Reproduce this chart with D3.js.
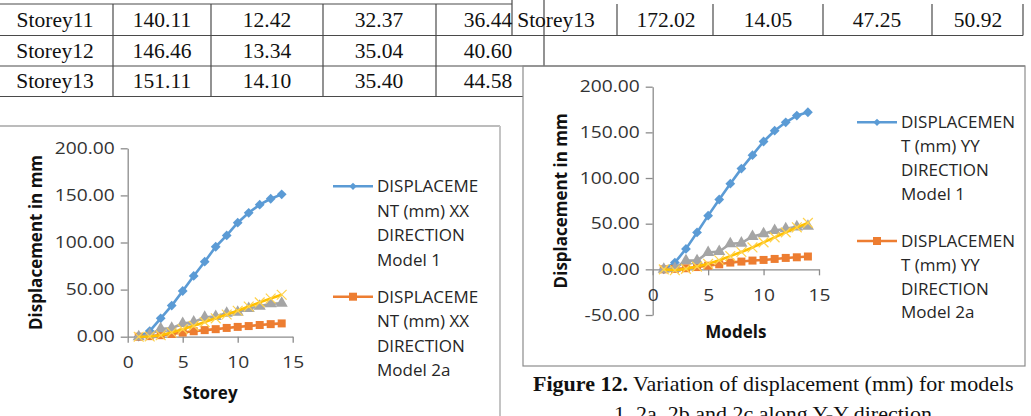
<!DOCTYPE html>
<html>
<head>
<meta charset="utf-8">
<script src="https://cdn.jsdelivr.net/npm/d3@7"></script>
<style>
  body { margin: 0; background: #fff; }
  svg { display: block; }
</style>
</head>
<body>
<div id="page"></div>
<script>
// storey / model numbers on the x axis
const storeys = [1, 2, 3, 4, 5, 6, 7, 8, 9, 10, 11, 12, 13, 14];
const xTicks = [0, 5, 10, 15];

// XX direction (left chart)
const xxModel1 = [0, 6, 19.5, 33, 48.5, 64.5, 79.6, 95.5, 107.5, 121, 131.5, 140.11, 146.46, 151.11];
const xxModel2a = [0, 0.6, 1.6, 2.9, 4.4, 5.8, 7.0, 8.0, 9.3, 10.4, 11.3, 12.42, 13.34, 14.10];
const xxModel2b = [0, 2, 8.5, 9, 14, 15.5, 20.5, 21.5, 25, 26, 30, 32.37, 35.04, 35.40];
const xxModel2c = [0, 0.2, 1.5, 4.5, 8, 11.5, 15.5, 19.5, 23.5, 27.5, 32, 36.44, 40.60, 44.58];
const xxTicks = [0, 50, 100, 150, 200];

// YY direction (right chart)
const yyModel1 = [0, 7.4, 22.4, 40.4, 58.8, 76.5, 93.8, 110.3, 125, 140, 151.8, 161, 168.4, 172.02];
const yyModel2a = [0, 0.5, 1.2, 2.5, 4, 5.5, 7.4, 8.5, 9.6, 10.3, 11.4, 12.5, 13.2, 14.05];
const yyModel2b = [0, 1, 9.5, 9.5, 18.4, 19.5, 28, 28.7, 36, 39, 42.5, 44.5, 46.5, 47.25];
const yyModel2c = [0, -1, 0.5, 3, 6, 10, 14.5, 19, 24, 29.5, 35, 40.5, 46, 50.92];
const yyTicks = [-50, 0, 50, 100, 150, 200];

// legend text as wrapped in the picture
const xxLegend = [
  ["DISPLACEME", "NT (mm) XX", "DIRECTION", "Model 1"],
  ["DISPLACEME", "NT (mm) XX", "DIRECTION", "Model 2a"]
];
const yyLegend = [
  ["DISPLACEMEN", "T (mm) YY", "DIRECTION", "Model 1"],
  ["DISPLACEMEN", "T (mm) YY", "DIRECTION", "Model 2a"]
];

// table scraps above the charts
const leftRows = [
  ["Storey11", "140.11", "12.42", "32.37", "36.44"],
  ["Storey12", "146.46", "13.34", "35.04", "40.60"],
  ["Storey13", "151.11", "14.10", "35.40", "44.58"]
];
const rightRow = ["Storey13", "172.02", "14.05", "47.25", "50.92"];

const colors = ["#5B9BD5", "#ED7D31", "#A5A5A5", "#FFC000"];
const markers = ["diamond", "square", "triangle", "x"];

const svg = d3.select("#page").append("svg")
  .attr("width", 1031)
  .attr("height", 416);

const serif = "'Liberation Serif', 'Times New Roman', serif";
const sans = "'Open Sans', 'Noto Sans', sans-serif";

function hline(x1, x2, y, color, w) {
  svg.append("line").attr("x1", x1).attr("x2", x2).attr("y1", y).attr("y2", y)
    .attr("stroke", color).attr("stroke-width", w);
}
function vline(x, y1, y2, color, w) {
  svg.append("line").attr("x1", x).attr("x2", x).attr("y1", y1).attr("y2", y2)
    .attr("stroke", color).attr("stroke-width", w);
}

function drawTables() {
    const lc = "#4a4a4a";
    // left table
    hline(0, 512, 4, lc, 1.2);
    hline(0, 1023, 35.5, lc, 1.2);
    hline(0, 1025, 66, lc, 1.2);
    hline(0, 523, 96.5, lc, 1.2);
    [113, 211, 323, 436].forEach(x => vline(x, 4, 96.5, lc, 1.2));
    vline(512, 0, 35.5, lc, 1.2);
    vline(544, 0, 66, lc, 1.2);
    // right table row
    [617, 713, 823, 932, 1023].forEach(x => vline(x, 4, 35.5, lc, 1.2));

    const leftCenters = [55, 162, 267, 379, 488];
    const baselines = [27, 58, 88];
    leftRows.forEach((row, i) => {
        row.forEach((cell, j) => {
            svg.append("text")
                .attr("x", leftCenters[j]).attr("y", baselines[i])
                .attr("text-anchor", "middle")
                .attr("font-family", serif).attr("font-size", 21.5)
                .attr("fill", "#111")
                .text(cell);
        });
    });

    const rightCenters = [556, 666, 768, 877, 978];
    rightRow.forEach((cell, j) => {
        svg.append("text")
            .attr("x", rightCenters[j]).attr("y", 27)
            .attr("text-anchor", "middle")
            .attr("font-family", serif).attr("font-size", 21.5)
            .attr("fill", "#111")
            .text(cell);
    });
}

function markerPath(kind, size) {
    if (kind === "diamond") return d3.symbol(d3.symbolSquare, size * 0.75)();
    if (kind === "square") return d3.symbol(d3.symbolSquare, size)();
    if (kind === "triangle") return d3.symbol(d3.symbolTriangle, size)();
    return d3.symbol(d3.symbolX, size)();
}

function addMarker(g, kind, color, cx, cy, size) {
    const p = g.append("path")
        .attr("d", markerPath(kind, size))
        .attr("transform", "translate(" + cx + "," + cy + ")" + (kind === "diamond" ? " rotate(45)" : ""));
    if (kind === "x") {
        p.attr("fill", "none").attr("stroke", "#FFD24D").attr("stroke-width", 1.2);
    } else {
        p.attr("fill", color);
    }
}

// stretch tick labels sideways, the picture's digits are wide
function stretchText(sel) {
    sel.each(function() {
        const x = +this.getAttribute("x") || 0;
        this.setAttribute("x", 0);
        this.setAttribute("transform", "translate(" + x + ",0) scale(1.2,1)");
    });
}

function drawChart(c) {
    const g = svg.append("g");
    const x = d3.scaleLinear().domain([0, 15]).range([c.left, c.right]);
    const y = d3.scaleLinear().domain([c.yTicks[0], c.yTicks[c.yTicks.length - 1]]).range([c.bottom, c.top]);

    const yAxis = g.append("g")
        .attr("transform", "translate(" + c.left + ",0)")
        .call(d3.axisLeft(y).tickValues(c.yTicks).tickFormat(d => d.toFixed(2))
            .tickSize(7).tickPadding(6).tickSizeOuter(0));
    const xAxis = g.append("g")
        .attr("transform", "translate(0," + y(0) + ")")
        .call(d3.axisBottom(x).tickValues(xTicks).tickSize(6).tickPadding(14).tickSizeOuter(0));

    [xAxis, yAxis].forEach(a => {
        a.select(".domain").attr("stroke", "#8c8c8c").attr("stroke-width", 1.3);
        a.selectAll(".tick line").attr("stroke", "#8c8c8c").attr("stroke-width", 1.3);
        a.selectAll(".tick text")
            .attr("font-family", sans).attr("font-size", 16).attr("fill", "#333");
    });
    stretchText(yAxis.selectAll(".tick text"));
    stretchText(xAxis.selectAll(".tick text"));

    // axis titles
    g.append("text")
        .attr("x", (c.left + c.right) / 2).attr("y", c.xTitleY)
        .attr("text-anchor", "middle")
        .attr("font-family", sans).attr("font-size", 17).attr("font-weight", "bold")
        .attr("fill", "#111")
        .text(c.xTitle);
    g.append("text")
        .attr("transform", "translate(" + c.yTitleX + "," + (c.top + c.bottom) / 2 + ") rotate(-90)")
        .attr("text-anchor", "middle")
        .attr("font-family", sans).attr("font-size", 17).attr("font-weight", "bold")
        .attr("fill", "#111")
        .text("Displacement in mm");

    const line = d3.line()
        .x((d, i) => x(storeys[i]))
        .y(d => y(d));

    c.series.forEach((vals, s) => {
        const sg = g.append("g");
        sg.append("path")
            .attr("d", line(vals))
            .attr("fill", "none")
            .attr("stroke", colors[s])
            .attr("stroke-width", 2.6)
            .attr("stroke-linejoin", "round");
        vals.forEach((v, i) => addMarker(sg, markers[s], colors[s], x(storeys[i]), y(v), 64));
    });

    // legend (only first two entries fit in the frame)
    c.legend.forEach((lines, k) => {
        const by = c.legendY[k];
        const lg = g.append("g");
        lg.append("line")
            .attr("x1", c.legendX).attr("x2", c.legendX + 40)
            .attr("y1", by - 6).attr("y2", by - 6)
            .attr("stroke", colors[k]).attr("stroke-width", 2.6);
        addMarker(lg, markers[k], colors[k], c.legendX + 20, by - 6, k === 0 ? 36 : 64);
        const t = lg.append("text")
            .attr("font-family", sans).attr("font-size", 17).attr("fill", "#262626");
        lines.forEach((str, i) => {
            t.append("tspan")
                .attr("x", c.legendX + 44).attr("y", by + i * c.legendStep)
                .text(str);
        });
    });
}

drawTables();

// frames of the two figure panels
hline(0, 500, 126, "#a6a6a6", 1.5);
vline(500, 126, 416, "#c4c4c4", 2);
svg.append("rect")
    .attr("x", 523).attr("y", 66).attr("width", 502).attr("height", 300)
    .attr("fill", "none").attr("stroke", "#8c8c8c").attr("stroke-width", 1.2);

drawChart({
    left: 127.7, right: 292.7, top: 148.3, bottom: 336.7,
    yTicks: xxTicks,
    series: [xxModel1, xxModel2a, xxModel2b, xxModel2c],
    xTitle: "Storey", xTitleY: 399, yTitleX: 41.5,
    legend: xxLegend, legendX: 333, legendY: [192.3, 302.7], legendStep: 24.5
});

drawChart({
    left: 652.7, right: 819, top: 86.7, bottom: 315,
    yTicks: yyTicks,
    series: [yyModel1, yyModel2a, yyModel2b, yyModel2c],
    xTitle: "Models", xTitleY: 338, yTitleX: 567,
    legend: yyLegend, legendX: 857, legendY: [128.3, 247], legendStep: 23.8
});

// caption (second line runs off the bottom, as in the scan)
const cap = svg.append("text")
    .attr("x", 533).attr("y", 391)
    .attr("font-family", serif).attr("font-size", 22).attr("fill", "#111");
cap.append("tspan").attr("font-weight", "bold").text("Figure 12.");
cap.append("tspan").text(" Variation of displacement (mm) for models");
svg.append("text")
    .attr("x", 773).attr("y", 421)
    .attr("text-anchor", "middle")
    .attr("font-family", serif).attr("font-size", 22).attr("fill", "#111")
    .text("1, 2a, 2b and 2c along Y-Y direction");
</script>
</body>
</html>
